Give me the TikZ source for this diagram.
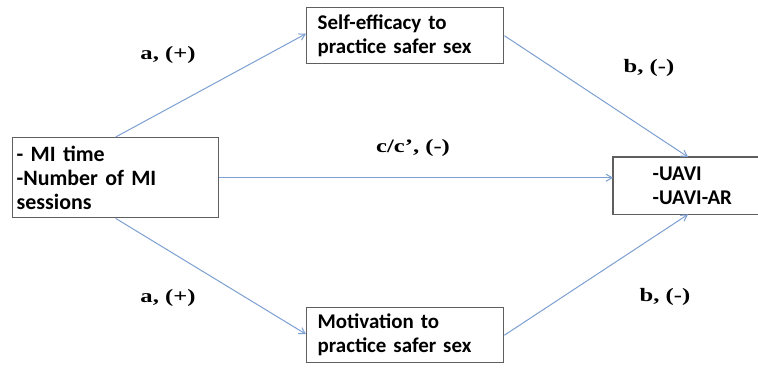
\documentclass[tikz,border=0pt]{standalone}
\usepackage{fontspec}
\setmainfont{Liberation Serif}
\newfontfamily\boxfont{Carlito}
\usetikzlibrary{arrows.meta,calc}
\definecolor{arrowblue}{RGB}{125,160,210}
\definecolor{boxgray}{RGB}{95,95,95}
\tikzset{
  varbox/.style={draw=boxgray, line width=1.4bp, fill=white, inner ysep=0pt,
    align=left, font=\boxfont\bfseries\fontsize{21}{24}\selectfont},
  boxline/.style={draw=boxgray, line width=1.4bp},
  path/.style={draw=arrowblue, line width=1bp, -{Straight Barb[length=6bp,width=7bp]}},
  lbl/.style={font=\bfseries\fontsize{19}{22}\selectfont, xscale=1.3, transform shape}
}
\begin{document}
\begin{tikzpicture}[x=1bp,y=-1bp]
\useasboundingbox[fill=white] (0,0) rectangle (758,369);
\node[varbox, inner xsep=4bp, minimum width=206bp, minimum height=80bp, text width=198bp, anchor=north west, font=\boxfont\bfseries\fontsize{22}{24}\selectfont] (mi) at (12,137) {- MI time\\-Number of MI\\sessions};
\node[varbox, inner xsep=11bp, minimum width=197bp, minimum height=56bp, text width=175bp, anchor=north west] (se) at (306,7) {Self-efficacy to\\practice safer sex};
\node[varbox, inner xsep=11bp, minimum width=197bp, minimum height=55bp, text width=175bp, anchor=north west] (mo) at (306,307) {Motivation to\\practice safer sex};
\node[varbox, draw=none, inner xsep=39bp, minimum height=56bp, text width=110bp, anchor=north west] (ua) at (613,157) {-UAVI\\-UAVI-AR};
\draw[boxline] (ua.north east) -- (ua.north west) -- (ua.south west) -- (ua.south east);
\coordinate (uatop) at ($(ua.north west)+(75,0)$);
\coordinate (uabot) at ($(ua.south west)+(75,0)$);
\draw[path] (mi.north) -- ($(se.west)+(0,-2)$);
\draw[path] (se.east) -- (uatop);
\draw[path] (mi.east) -- (mi.east -| ua.west);
\draw[path] (mi.south) -- ($(mo.west)+(0,-1)$);
\draw[path] (mo.east) -- (uabot);
\node[lbl] (la1) at (168,55) {a, (+)};
\node[lbl] (la2) at (168,298) {a, (+)};
\node[lbl] (lb1) at (649,68) {b, (-)};
\node[lbl] (lb2) at (665,297) {b, (-)};
\node[lbl] (lc) at (413,148) {c/c', (-)};
\end{tikzpicture}
\end{document}
